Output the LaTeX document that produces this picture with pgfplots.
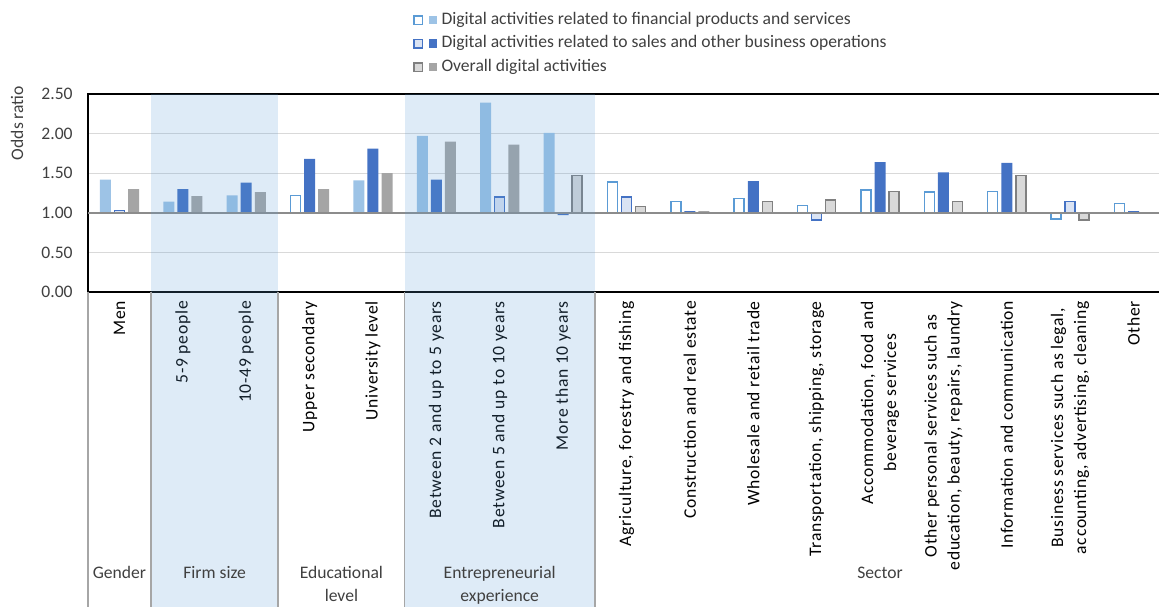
\documentclass[border=0pt]{standalone}
\usepackage{fontspec}
\setmainfont{Carlito}
\usepackage{pgfplots}
\pgfplotsset{compat=1.18}
\usepackage{pgfplotstable}

\definecolor{finF}{HTML}{9DC3E6}
\definecolor{finO}{HTML}{5B9BD5}
\definecolor{salF}{HTML}{4472C4}
\definecolor{salL}{HTML}{DAE3F3}
\definecolor{allF}{HTML}{A5A5A5}
\definecolor{allO}{HTML}{808080}
\definecolor{allL}{HTML}{D9D9D9}
\definecolor{txt}{HTML}{404040}
\definecolor{gridc}{HTML}{D9D9D9}
\definecolor{onec}{HTML}{8C8C8C}
\definecolor{sepc}{HTML}{A6A6A6}

\newcommand{\chfont}{\fontsize{17.6}{23}\selectfont}

% odds ratios; filled = solid bar, open = outlined bar
\pgfplotstableread{
x v
0 1.42
1 1.14
2 1.22
4 1.41
5 1.97
6 2.39
7 2.01
}\finfilled
\pgfplotstableread{
x v
3 1.22
8 1.39
9 1.14
10 1.18
11 1.09
12 1.29
13 1.26
14 1.27
15 0.92
16 1.12
}\finopen
\pgfplotstableread{
x v
1 1.30
2 1.38
3 1.68
4 1.81
5 1.42
7 0.97
9 1.02
10 1.40
12 1.64
13 1.51
14 1.63
16 1.02
}\salfilled
\pgfplotstableread{
x v
0 1.03
6 1.20
8 1.20
11 0.91
15 1.14
}\salopen
\pgfplotstableread{
x v
0 1.30
1 1.21
2 1.26
3 1.30
4 1.50
5 1.90
6 1.86
9 1.02
16 0.99
}\allfilled
\pgfplotstableread{
x v
7 1.47
8 1.08
10 1.14
11 1.16
12 1.27
13 1.14
14 1.47
15 0.91
}\allopen

\begin{document}
\begin{tikzpicture}
\useasboundingbox (0pt,0pt) rectangle (1159pt,607pt);
\begin{axis}[
  at={(87.8pt,315pt)}, anchor=south west,
  scale only axis, width=1077.4pt, height=198pt,
  ybar, bar width=11pt,
  xmin=-0.5, xmax=16.5, ymin=-1, ymax=1.5,
  enlargelimits=false,
  axis line style={black, line width=1.5pt},
  major tick length=0pt,
  ymajorgrids, grid style={gridc, line width=1.2pt},
  ytick={-1,-0.5,0,0.5,1,1.5},
  yticklabels={0.00,0.50,1.00,1.50,2.00,2.50},
  yticklabel style={font=\chfont, text=txt, inner sep=0pt, xshift=-15pt},
  xtick={0,...,16},
  xticklabels={Men, 5-9 people, 10-49 people, Upper secondary, University level,
    Between 2 and up to 5 years, Between 5 and up to 10 years, More than 10 years,
    {Agriculture, forestry and fishing}, Construction and real estate,
    Wholesale and retail trade, {Transportation, shipping, storage},
    {Accommodation, food and\\beverage services},
    {Other personal services such as\\education, beauty, repairs, laundry},
    Information and communication,
    {Business services such as legal,\\accounting, advertising, cleaning}, Other},
  xticklabel style={rotate=90, anchor=east, align=center, inner sep=0pt,
    font=\chfont\addfontfeature{LetterSpace=4}, text=black},
  xticklabel shift=9pt,
  legend cell align=left,
  legend style={at={(0.3021,1.414)}, anchor=north west, draw=none, fill=none,
    inner sep=0pt, outer sep=0pt, row sep=7.5pt,
    nodes={inner sep=0pt, font=\chfont, text=txt, text height=12pt, text depth=4pt}},
]
\addplot[forget plot, draw=finO, fill=white, line width=1.5pt, bar width=10pt, bar shift=-14.1pt]
  table[x=x, y expr=\thisrow{v}-1] {\finopen};
\addplot[draw=none, fill=finF, bar shift=-14.1pt,
  legend image code/.code={
    \draw[finO, fill=white, line width=1.5pt] (0pt,-4.25pt) rectangle (8.5pt,4.25pt);
    \fill[finF] (14.5pt,-4.25pt) rectangle (22.8pt,4.25pt);
    \path (27.5pt,0pt);}]
  table[x=x, y expr=\thisrow{v}-1] {\finfilled};
\addlegendentry{Digital activities related to financial products and services}
\addplot[forget plot, draw=salF, fill=salL, line width=1.5pt, bar width=10pt, bar shift=0pt]
  table[x=x, y expr=\thisrow{v}-1] {\salopen};
\addplot[draw=none, fill=salF, bar shift=0pt,
  legend image code/.code={
    \draw[salF, fill=salL, line width=1.5pt] (0pt,-4.25pt) rectangle (8.5pt,4.25pt);
    \fill[salF] (14.5pt,-4.25pt) rectangle (22.8pt,4.25pt);
    \path (27.5pt,0pt);}]
  table[x=x, y expr=\thisrow{v}-1] {\salfilled};
\addlegendentry{Digital activities related to sales and other business operations}
\addplot[forget plot, draw=allO, fill=allL, line width=1.5pt, bar width=10pt, bar shift=14.1pt]
  table[x=x, y expr=\thisrow{v}-1] {\allopen};
\addplot[draw=none, fill=allF, bar shift=14.1pt,
  legend image code/.code={
    \draw[allO, fill=allL, line width=1.5pt] (0pt,-4.25pt) rectangle (8.5pt,4.25pt);
    \fill[allF] (14.5pt,-4.25pt) rectangle (22.8pt,4.25pt);
    \path (27.5pt,0pt);}]
  table[x=x, y expr=\thisrow{v}-1] {\allfilled};
\addlegendentry{Overall digital activities}
\draw[onec, line width=1.5pt] (axis cs:-0.5,0) -- (axis cs:16.5,0);
\end{axis}
% shaded groups
\fill[finO, opacity=0.2] (151.2pt,0pt) rectangle (278pt,513pt);
\fill[finO, opacity=0.2] (404.7pt,0pt) rectangle (594.8pt,513pt);
% group separators
\foreach \xx in {87.8,151.2,278,404.7,594.8}
  \draw[sepc, line width=1.5pt] (\xx pt,0pt) -- (\xx pt,315pt);
% axis title
\node[rotate=90, font=\chfont, text=txt, inner sep=0pt] at (17pt,484pt) {Odds ratio};
% group labels
\begin{scope}[every node/.style={font=\chfont, text=txt, inner sep=0pt, align=center, anchor=north}]
\node at (119.5pt,40.5pt) {Gender};
\node at (214.6pt,40.5pt) {Firm size};
\node at (341.4pt,40.5pt) {Educational\\level};
\node at (499.7pt,40.5pt) {Entrepreneurial\\experience};
\node at (880pt,40.5pt) {Sector};
\end{scope}
\end{tikzpicture}
\end{document}
